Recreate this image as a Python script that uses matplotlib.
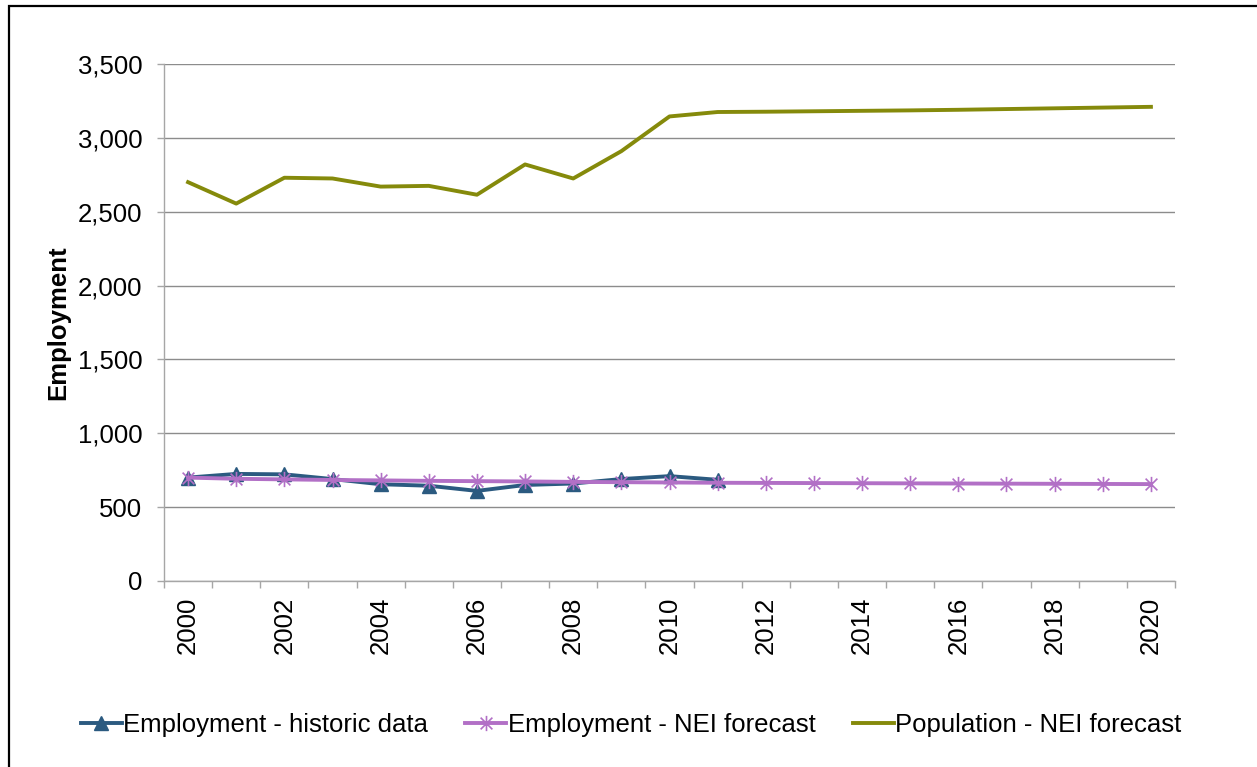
import matplotlib
matplotlib.use("Agg")
import matplotlib.pyplot as plt
from matplotlib.path import Path
from matplotlib.ticker import FuncFormatter, FixedLocator
from matplotlib.patches import Rectangle

years = list(range(2000, 2021))
hist_years = list(range(2000, 2012))
employment_hist = [700, 725, 722, 690, 655, 645, 610, 650, 660, 690, 710, 685]
employment_fc = [700, 692, 688, 684, 681, 678, 676, 674, 671, 669, 667, 665,
                 664, 663, 662, 661, 660, 659, 658, 657, 656]
population_fc = [2700, 2555, 2730, 2725, 2670, 2675, 2615, 2820, 2725, 2910,
                 3145, 3175, 3177, 3180, 3183, 3186, 3190, 3195, 3200, 3205, 3210]
series_names = ["Employment - historic data", "Employment - NEI forecast",
                "Population - NEI forecast"]
y_ticks = [0, 500, 1000, 1500, 2000, 2500, 3000, 3500]

plt.rcParams['font.family'] = ['Liberation Sans', 'DejaVu Sans']

W, H = 1257, 767
FS = 18.5
fig = plt.figure(figsize=(W / 100, H / 100), dpi=100)
ax = fig.add_axes([164 / W, 1 - 581 / H, (1175 - 164) / W, (581 - 64) / H])

c_hist = '#2b5a80'
c_fc = '#b270c6'
c_pop = '#858a0b'

star = Path([(-1, -1), (1, 1), (-1, 1), (1, -1), (0, -1.3), (0, 1.3)],
            [Path.MOVETO, Path.LINETO, Path.MOVETO, Path.LINETO, Path.MOVETO, Path.LINETO])

xh = [years.index(y) for y in hist_years]
xa = list(range(len(years)))
ax.plot(xh, employment_hist, color=c_hist, lw=2.8, marker='^', ms=10,
        mfc=c_hist, mec=c_hist, label=series_names[0], zorder=3)
ax.plot(xa, employment_fc, color=c_fc, lw=2.8, marker=star, ms=11,
        mfc='none', mec=c_fc, mew=1.2, label=series_names[1], zorder=4)
ax.plot(xa, population_fc, color=c_pop, lw=2.8, label=series_names[2], zorder=3)

ax.set_xlim(-0.5, len(years) - 0.5)
ax.set_ylim(0, 3500)
ax.set_yticks(y_ticks)
ax.yaxis.set_major_formatter(FuncFormatter(lambda v, p: f"{int(v):,}"))
ax.grid(axis='y', color='#8c8c8c', lw=1.0)
ax.set_axisbelow(True)

# x ticks: marks at category boundaries, labels at every other category
ax.xaxis.set_minor_locator(FixedLocator([i - 0.5 for i in range(len(years) + 1)]))
ax.xaxis.set_major_locator(FixedLocator(list(range(0, len(years), 2))))
ax.set_xticklabels([str(years[i]) for i in range(0, len(years), 2)], rotation=90)
ax.tick_params(axis='x', which='major', length=0, pad=11.5, labelsize=FS)
ax.tick_params(axis='x', which='minor', length=5, width=1, color='#a6a6a6', direction='out')
ax.tick_params(axis='y', length=5, width=1, color='#a6a6a6', pad=10.5, labelsize=FS)

for s in ['top', 'right']:
    ax.spines[s].set_visible(False)
for s in ['left', 'bottom']:
    ax.spines[s].set_color('#a6a6a6')
    ax.spines[s].set_linewidth(1.0)

ax.set_ylabel("Employment", fontsize=FS, fontweight='bold')
ax.yaxis.set_label_coords((70 - 164) / (1175 - 164), 0.5)

leg = fig.legend(loc='center', bbox_to_anchor=(631 / W, 1 - 725 / H), ncol=3,
                 frameon=False, fontsize=FS, handlelength=1.6, handletextpad=0.05,
                 columnspacing=1.45)

fig.add_artist(Rectangle((9 / W, -0.1), 2, 1.1 - 6 / H, transform=fig.transFigure,
                         fill=False, edgecolor='black', lw=1.6))

fig.savefig("out.png", dpi=100)
